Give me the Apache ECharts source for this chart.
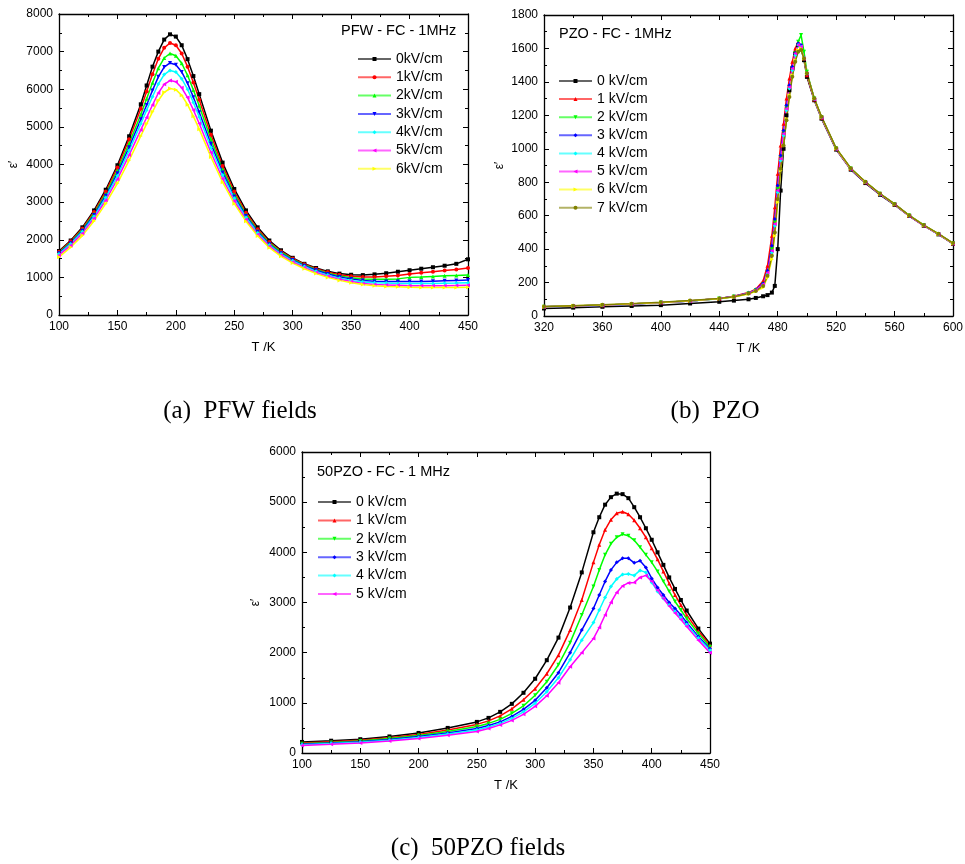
<!DOCTYPE html>
<html>
<head>
<meta charset="utf-8">
<script src="https://cdn.jsdelivr.net/npm/echarts@6/dist/echarts.min.js"></script>
<style>html,body{margin:0;padding:0;background:#fff}#c{width:965px;height:864px}</style>
</head>
<body>
<div id="c"></div>
<script>
// ---------- (a) PFW fields ----------
const aT = [100,110,120,130,140,150,160,170,175,180,185,190,195,200,205,210,215,220,230,240,250,260,270,280,290,300,310,320,330,340,350,360,370,380,390,400,410,420,430,440,450];
const a0 = [1700,1980,2330,2780,3330,3980,4750,5600,6100,6600,7000,7320,7460,7400,7170,6800,6350,5870,4900,4050,3350,2780,2330,1980,1720,1520,1360,1250,1160,1100,1070,1060,1080,1110,1150,1190,1230,1270,1310,1360,1480];
const a1 = [1680,1960,2300,2740,3280,3920,4670,5480,5940,6400,6810,7100,7230,7170,6950,6600,6180,5720,4790,3960,3280,2720,2280,1940,1690,1500,1350,1230,1140,1070,1030,1010,1010,1030,1050,1090,1120,1150,1180,1210,1250];
const a2 = [1660,1930,2270,2700,3220,3840,4560,5330,5750,6170,6560,6830,6950,6890,6690,6370,5980,5560,4670,3870,3210,2670,2240,1910,1670,1480,1330,1210,1110,1040,990,960,950,950,960,1000,1010,1025,1040,1050,1060];
const a3 = [1640,1910,2240,2660,3170,3770,4460,5200,5580,5970,6330,6590,6700,6650,6460,6160,5790,5390,4550,3790,3150,2630,2210,1880,1640,1460,1310,1190,1090,1010,960,920,900,890,890,890,890,900,910,920,930];
const a4 = [1620,1890,2210,2620,3120,3700,4370,5080,5440,5800,6140,6390,6500,6460,6280,6000,5650,5260,4450,3720,3100,2590,2180,1860,1620,1440,1290,1160,1060,980,920,880,860,850,840,840,840,840,845,850,860];
const a5 = [1590,1850,2170,2570,3050,3610,4250,4920,5250,5580,5900,6130,6230,6200,6040,5780,5450,5090,4320,3620,3030,2540,2140,1830,1590,1410,1260,1130,1030,950,890,840,810,800,790,780,780,780,780,785,790];
const a6 = [1540,1800,2110,2500,2960,3500,4110,4760,5080,5400,5700,5920,6020,5990,5840,5590,5280,4940,4200,3530,2960,2490,2100,1790,1560,1380,1230,1100,1000,920,860,810,780,760,750,740,730,730,730,730,735];
const aNames = ['0kV/cm','1kV/cm','2kV/cm','3kV/cm','4kV/cm','5kV/cm','6kV/cm'];

// ---------- (b) PZO ----------
const bT = [320,340,360,380,400,420,440,450,460,465,470,473,476,478,480,482,484,486,488,490,492,494,496,498,500,505,510,520,530,540,550,560,570,580,590,600];
const b0 = [45,50,55,60,65,75,85,92,100,108,118,125,140,180,400,750,1000,1200,1350,1480,1570,1620,1600,1530,1430,1290,1180,995,875,795,725,665,598,540,488,432];
const b1 = [55,60,65,72,80,90,105,118,140,160,210,300,480,650,850,1020,1150,1300,1420,1520,1600,1640,1610,1540,1440,1295,1185,1000,880,800,730,668,600,542,490,434];
const b2 = [55,60,65,72,80,90,104,116,136,155,190,260,400,560,760,950,1100,1250,1370,1480,1570,1640,1680,1580,1460,1300,1190,1002,882,802,731,669,601,543,491,435];
const b3 = [55,60,65,72,80,90,104,116,137,157,195,270,420,580,780,960,1110,1260,1380,1490,1570,1630,1620,1540,1450,1298,1188,1000,880,800,730,668,600,542,490,434];
const b4 = [55,60,65,72,80,90,103,115,135,153,185,250,380,540,740,930,1080,1230,1360,1470,1560,1620,1610,1540,1450,1297,1187,1000,880,800,730,668,600,542,490,434];
const b5 = [55,60,65,72,80,90,104,116,136,155,190,260,390,550,750,940,1090,1240,1370,1480,1570,1620,1610,1540,1448,1296,1186,999,879,799,729,667,599,541,489,433];
const b6 = [56,61,66,73,81,91,103,114,132,148,170,230,340,480,680,870,1020,1180,1320,1440,1530,1590,1600,1540,1450,1300,1190,1002,882,802,731,669,601,543,491,435];
const b7 = [57,62,67,74,82,92,104,115,134,150,180,240,360,500,700,880,1020,1170,1310,1430,1520,1580,1590,1540,1452,1302,1192,1004,884,803,732,670,602,544,492,436];
const bNames = ['0 kV/cm','1 kV/cm','2 kV/cm','3 kV/cm','4 kV/cm','5 kV/cm','6 kV/cm','7 kV/cm'];

// ---------- (c) 50PZO fields ----------
const cT = [100,125,150,175,200,225,250,260,270,280,290,300,310,320,330,340,350,355,360,365,370,375,380,385,390,395,400,405,410,415,420,425,430,440,450];
const c0 = [220,245,275,330,400,500,620,700,820,980,1200,1480,1850,2300,2900,3600,4400,4700,4950,5100,5170,5160,5080,4900,4700,4480,4250,4000,3750,3500,3270,3050,2840,2480,2180];
const c1 = [200,225,255,305,370,460,570,640,740,880,1060,1280,1580,1950,2450,3050,3800,4150,4450,4650,4780,4810,4760,4640,4480,4300,4080,3860,3620,3380,3150,2950,2750,2430,2150];
const c2 = [185,210,240,290,350,430,530,590,670,790,940,1150,1420,1760,2200,2750,3320,3650,3950,4170,4300,4360,4330,4240,4100,3950,3800,3620,3420,3220,3020,2850,2680,2380,2120];
const c3 = [175,198,225,270,330,400,490,550,620,730,870,1050,1300,1600,2000,2450,2880,3150,3420,3650,3800,3880,3880,3790,3830,3700,3480,3300,3150,3000,2880,2750,2600,2320,2080];
const c4 = [165,188,215,255,310,380,460,520,590,690,820,990,1220,1500,1860,2250,2600,2850,3100,3320,3470,3560,3570,3540,3640,3600,3400,3220,3080,2950,2820,2700,2560,2290,2050];
const c5 = [150,172,200,240,290,355,430,490,560,650,770,930,1140,1400,1720,2000,2280,2500,2750,3000,3200,3330,3390,3400,3500,3540,3420,3240,3080,2930,2790,2660,2520,2250,2000];
const cNames = ['0 kV/cm','1 kV/cm','2 kV/cm','3 kV/cm','4 kV/cm','5 kV/cm'];

// ---------- styling ----------
const COL = ['#000000','#ff0000','#00ff00','#0000ff','#00ffff','#ff00ff','#ffff00','#808000'];
const TRI_DOWN = 'path://M0,0 L10,0 L5,10 Z';
const TRI_LEFT = 'path://M10,0 L10,10 L0,5 Z';
const TRI_RIGHT = 'path://M0,0 L0,10 L10,5 Z';
const symA = ['rect','circle','triangle',TRI_DOWN,'diamond',TRI_LEFT,TRI_RIGHT];
const symB = ['rect','triangle',TRI_DOWN,'diamond','diamond',TRI_LEFT,TRI_RIGHT,'circle'];
const symC = ['rect','triangle',TRI_DOWN,'diamond','diamond',TRI_LEFT];
const FONT = '"Liberation Sans", Arial, sans-serif';
const SERIF = '"Liberation Serif", "Times New Roman", serif';

function zip(T, V){ return T.map((t,i)=>[t,V[i]]); }

function axisPair(gi, kind, min, max, interval, name, nameGap){
  const common = {
    gridIndex: gi, type:'value', min, max, interval,
    axisLine:{show:true, onZero:false, lineStyle:{color:'#000', width:1.3}},
    axisTick:{show:true, inside:true, length:5, lineStyle:{color:'#000'}},
    minorTick:{show:true, splitNumber:2, length:3, lineStyle:{color:'#000'}},
    splitLine:{show:false}, minorSplitLine:{show:false}
  };
  const main = Object.assign({}, common, {
    position: kind==='x' ? 'bottom' : 'left',
    axisLabel:{show:true, color:'#000', fontSize:12, fontFamily:FONT, margin:6, formatter: v => String(v)},
    name: name, nameLocation:'middle', nameGap: nameGap,
    nameTextStyle: kind==='x' ? {color:'#000', fontSize:13, fontFamily:FONT} : {color:'#000', fontSize:12, fontFamily:FONT},
    nameRotate: kind==='y' ? 90 : 0
  });
  const sec = Object.assign({}, common, {
    position: kind==='x' ? 'top' : 'right',
    axisLabel:{show:false}
  });
  return [main, sec];
}

const xAxes = [], yAxes = [];
xAxes.push(...axisPair(0,'x',100,450,50,'T /K',26));
yAxes.push(...axisPair(0,'y',0,8000,1000,'ε′',39));
xAxes.push(...axisPair(1,'x',320,600,40,'T /K',26));
yAxes.push(...axisPair(1,'y',0,1800,200,'ε′',38));
xAxes.push(...axisPair(2,'x',100,450,50,'T /K',26));
yAxes.push(...axisPair(2,'y',0,6000,1000,'ε′',40));

const series = [];
function addSeries(gi, T, arrs, names, syms){
  arrs.forEach((v,i)=>{
    series.push({
      type:'line', name:names[i], xAxisIndex: gi*2, yAxisIndex: gi*2,
      data: zip(T, v), symbol: syms[i], symbolSize: 4, showSymbol:true,
      lineStyle:{color:COL[i], width:1.5}, itemStyle:{color:COL[i]},
      animation:false
    });
  });
}
addSeries(0, aT, [a0,a1,a2,a3,a4,a5,a6], aNames, symA);
addSeries(1, bT, [b0,b1,b2,b3,b4,b5,b6,b7], bNames, symB);
// (c) uses its own legend names (trailing space keeps them distinct from (b))
const cNamesInternal = cNames.map(n=>n+' ');
addSeries(2, cT, [c0,c1,c2,c3,c4,c5], cNamesInternal, symC);

function legend(names, left, top, gap){
  return {
    data: names, orient:'vertical', left, top, itemWidth:33, itemHeight:5, itemGap: gap,
    padding:0, lineStyle:{opacity:0.6},
    textStyle:{color:'#000', fontSize:14, fontFamily:FONT, lineHeight:18}, selectedMode:false
  };
}
const chart = echarts.init(document.getElementById('c'), null, {renderer:'canvas'});

function txt(text, x, y, font, align){
  return {type:'text', x, y, style:{text, font, fill:'#000', align: align||'left', verticalAlign:'middle', textAlign: align||'left', textVerticalAlign:'middle'}};
}

chart.setOption({
  backgroundColor:'#fff',
  animation:false,
  grid:[
    {left:59, top:14, width:409, height:301, outerBoundsMode:'none'},
    {left:544, top:15, width:409, height:301, outerBoundsMode:'none'},
    {left:302, top:452, width:408, height:301, outerBoundsMode:'none'}
  ],
  xAxis: xAxes,
  yAxis: yAxes,
  legend:[
    legend(aNames, 357, 50, 0.3),
    legend(bNames, 558, 72, 0.1),
    legend(cNamesInternal, 317, 493, 0.4)
  ],
  graphic:[
    txt('PFW - FC - 1MHz', 341, 31, '14.5px '+FONT),
    txt('PZO - FC - 1MHz', 559, 34, '14.5px '+FONT),
    txt('50PZO - FC - 1 MHz', 317, 472, '14.5px '+FONT),
    txt('(a)  PFW fields', 240, 411, '25px '+SERIF, 'center'),
    txt('(b)  PZO', 715, 411, '25px '+SERIF, 'center'),
    txt('(c)  50PZO fields', 478, 848, '25px '+SERIF, 'center')
  ],
  series
});
</script>
</body>
</html>
